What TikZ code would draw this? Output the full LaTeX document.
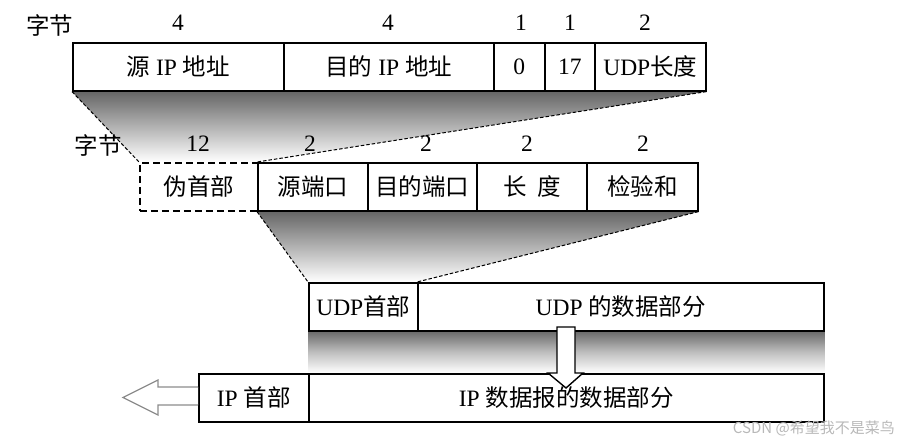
\documentclass[tikz,border=0pt]{standalone}
\usepackage{fontspec}
\setmainfont{Liberation Serif}
\newfontfamily\cjk{Noto Sans CJK SC}
\newcommand\zh[1]{{\cjk #1}}
\usetikzlibrary{backgrounds}
\tikzset{
  cell/.style={draw, line width=1.6pt, fill=white, minimum height=48pt, inner sep=0pt,
               anchor=north west, font=\fontsize{23.5}{26}\selectfont},
  pcell/.style={cell, dashed, dash pattern=on 7pt off 4pt, line width=1.8pt},
  lbl/.style={inner sep=0pt, font=\fontsize{23.5}{26}\selectfont},
  guide/.style={draw, line width=1pt, dash pattern=on 3.5pt off 2pt},
  fade/.style={top color=black!60, bottom color=white, middle color=black!30},
  hollow/.style={draw=black!45, line width=1.2pt, fill=white, line join=miter},
  downarr/.style={draw, line width=1.4pt, fill=white, line join=miter}
}
\begin{document}
\begin{tikzpicture}[x=1pt, y=-1pt]
\useasboundingbox (0,0) rectangle (900,444);

% row 1: pseudo header contents
\node[cell, minimum width=211pt] (sip)  at (72,42)  {\zh{源} IP \zh{地址}};
\node[cell, minimum width=210pt] (dip)  at (283,42) {\zh{目的} IP \zh{地址}};
\node[cell, minimum width=51pt]  (zero) at (493,42) {0};
\node[cell, minimum width=50pt]  (prot) at (544,42) {17};
\node[cell, minimum width=111pt] (ulen) at (594,42) {UDP\zh{长度}};

\node[lbl] (b1)  at (50,25)  {\zh{字节}};
\node[lbl] (n1a) at (178,23) {4};
\node[lbl] (n1b) at (388,23) {4};
\node[lbl] (n1c) at (521,23) {1};
\node[lbl] (n1d) at (570,23) {1};
\node[lbl] (n1e) at (645,23) {2};

% row 2: UDP header
\node[pcell, minimum width=118pt] (pseudo) at (139,162) {\zh{伪首部}};
\node[cell, minimum width=110pt] (sport) at (257,162) {\zh{源端口}};
\node[cell, minimum width=109pt] (dport) at (367,162) {\zh{目的端口}};
\node[cell, minimum width=110pt] (len)   at (476,162) {\zh{长}\hspace{0.45em}\zh{度}};
\node[cell, minimum width=111pt] (cks)   at (586,162) {\zh{检验和}};

\node[lbl] (b2)  at (98,145)  {\zh{字节}};
\node[lbl] (n2a) at (198,144) {12};
\node[lbl] (n2b) at (310,144) {2};
\node[lbl] (n2c) at (426,144) {2};
\node[lbl] (n2d) at (527,144) {2};
\node[lbl] (n2e) at (643,144) {2};

% row 3: UDP datagram
\node[cell, minimum width=109pt] (udph) at (308,282) {UDP\zh{首部}};
\node[cell, minimum width=406pt] (udpd) at (417,282) {UDP \zh{的数据部分}};

% row 4: IP datagram
\node[cell, minimum width=110pt] (iph) at (198,373) {IP \zh{首部}};
\node[cell, minimum width=515pt] (ipd) at (308,373) {IP \zh{数据报的数据部分}};

% shaded expansions
\begin{scope}[on background layer]
  \shade[fade] (sip.south west) -- (ulen.south east) -- (sport.north west) -- (pseudo.north west) -- cycle;
  \shade[fade] (sport.south west) -- (cks.south east) -- (udpd.north west) -- (udph.north west) -- cycle;
  \shade[top color=black!58, bottom color=white, middle color=black!25] (udph.south west) rectangle (ipd.north east);
\end{scope}

\draw[guide] (sip.south west) -- (pseudo.north west);
\draw[guide] (ulen.south east) -- (sport.north west);
\draw[guide] (sport.south west) -- (udph.north west);
\draw[guide] (cks.south east) -- (udpd.north west);

% down arrow from UDP data into IP data
\draw[downarr] (557,327) -- (575,327) -- (575,373) -- (583,373) -- (566,388)
   -- (548,373) -- (557,373) -- cycle;

% hollow arrow leaving to the left
\draw[hollow] (iph.west |- 0,387) -- (158,387) -- (158,380) -- (123,397.5)
   -- (158,415) -- (158,405) -- (iph.west |- 0,405);

% watermark
\node[inner sep=0pt, anchor=east, text=black!28, font=\cjk\fontsize{15}{17}\selectfont]
  (wm) at (895,428) {CSDN @希望我不是菜鸟};
\end{tikzpicture}
\end{document}
